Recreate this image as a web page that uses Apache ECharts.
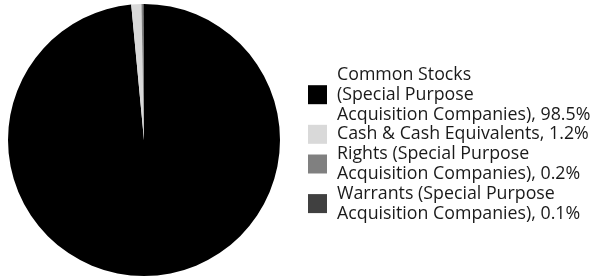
<!DOCTYPE html>
<html>
<head>
<meta charset="utf-8">
<script src="https://cdn.jsdelivr.net/npm/echarts@6/dist/echarts.min.js"></script>
<style>
  html, body { margin: 0; padding: 0; background: #ffffff; }
  #chart { width: 593px; height: 277px; }
</style>
</head>
<body>
<div id="chart"></div>
<script>
const categories = [
  'Common Stocks\n(Special Purpose\nAcquisition Companies)',
  'Cash & Cash Equivalents',
  'Rights (Special Purpose\nAcquisition Companies)',
  'Warrants (Special Purpose\nAcquisition Companies)',
]
const shares = [98.5, 1.2, 0.2, 0.1]
const colors = ['#000000', '#d9d9d9', '#808080', '#404040']

const chart = echarts.init(document.getElementById('chart'), null, { renderer: 'canvas' })

chart.setOption({
  backgroundColor: '#ffffff',
  animation: false,
  color: colors,
  legend: {
    orient: 'vertical',
    left: 303,
    top: 60,
    itemWidth: 19,
    itemHeight: 19,
    itemGap: 0,
    selectedMode: false,
    icon: 'rect',
    textStyle: {
      fontFamily: 'Open Sans',
      fontSize: 17.8,
      lineHeight: 19.8,
      color: '#1a1a1a',
      padding: [0, 0, 0, 5],
    },
    formatter: (name) => {
      const i = categories.indexOf(name)
      return `${name}, ${shares[i].toFixed(1)}%`
    },
    data: categories,
  },
  series: [{
    type: 'pie',
    center: [144, 140],
    radius: [0, 136],
    startAngle: 90,
    clockwise: true,
    label: { show: false },
    labelLine: { show: false },
    emphasis: { disabled: true },
    itemStyle: { borderWidth: 0 },
    data: categories.map((c, i) => ({ name: c, value: shares[i] })),
  }],
})
</script>
</body>
</html>
